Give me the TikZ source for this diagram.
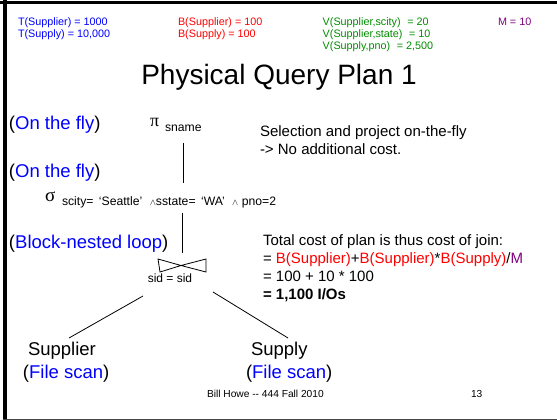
\documentclass[tikz,border=0pt]{standalone}
\usepackage{fontspec}
\setmainfont{Liberation Sans}
\newfontfamily\grfont{Liberation Serif}
\definecolor{qblue}{RGB}{0,0,255}
\definecolor{qred}{RGB}{255,0,0}
\definecolor{qgreen}{RGB}{0,140,0}
\definecolor{qpurple}{RGB}{128,0,128}
\definecolor{qframe}{RGB}{70,70,70}
\newcommand\myfs[1]{\fontsize{#1}{#1}\selectfont}
\begin{document}
\begin{tikzpicture}[x=1pt,y=-1pt,
  every node/.style={inner sep=0pt,outer sep=0pt},
  txt/.style={anchor=base west},
  small/.style={txt,font=\myfs{10.8}},
  mid/.style={txt,font=\myfs{15}},
  big/.style={txt,font=\myfs{18.5}},
  sub/.style={txt,font=\myfs{12.2}},
  edge/.style={draw=black,line width=0.8pt}]
\useasboundingbox (0,0) rectangle (557,420);
% frame
\fill[black] (0,1.5) rectangle (557,4.5);
\fill[black] (3.3,0) rectangle (6.7,420);
\draw[qframe,line width=1.3pt] (3,419.2) -- (557,419.2);
% statistics
\node[small,text=qblue] (t1) at (18,26) {T(Supplier) = 1000};
\node[small,text=qblue] (t2) at (18,37.7) {T(Supply) = 10,000};
\node[small,text=qred] (b1) at (178,26) {B(Supplier) = 100};
\node[small,text=qred] (b2) at (178,37.7) {B(Supply) = 100};
\node[small,text=qgreen] (v1) at (322.7,26) {V(Supplier,scity)\,\, = 20};
\node[small,text=qgreen] (v2) at (322.7,37.7) {V(Supplier,state)\,\, = 10};
\node[small,text=qgreen] (v3) at (322.7,49.4) {V(Supply,pno)\,\, = 2,500};
\node[small,text=qpurple] (m) at (498,26) {M = 10};
% title
\node[anchor=base,font=\myfs{28}] (title) at (279,84.3) {Physical Query Plan 1};
% left labels
\node[big] (l1) at (9,129.5) {(\textcolor{qblue}{On the fly})};
\node[big] (l2) at (9,177.5) {(\textcolor{qblue}{On the fly})};
\node[big] (l3) at (9,248) {(\textcolor{qblue}{Block-nested loop})};
% projection
\node[txt,font=\grfont\myfs{18}] (pi) at (150,126) {π};
\node[sub] (sname) at (165,131) {sname};
% selection
\node[txt,font=\grfont\myfs{19}] (sigma) at (45,201) {σ};
\node[sub] (cond) at (62,205) {scity=\, ‘Seattle’\,\, {\myfs{9}$\wedge$}sstate=\, ‘WA’\,\, {\myfs{9}$\wedge$} pno=2};
% connector coordinates
\coordinate (a1) at (183,143);
\coordinate (a2) at (183,183);
\coordinate (b1c) at (182,213);
\coordinate (b2c) at (182,253);
% join symbol
\coordinate (jtl) at (158,259);
\coordinate (jbl) at (160,272);
\coordinate (jc) at (181,265.5);
\coordinate (jtr) at (206,259);
\coordinate (jbr) at (206,272);
\draw[edge] (jtl) -- (jc) -- (jtr) -- (jbr) -- (jc) -- (jbl) -- cycle;
\node[anchor=base,font=\myfs{12}] (sid) at (170,282) {sid = sid};
\draw[edge] (a1) -- (a2);
\draw[edge] (b1c) -- (b2c);
% leaves
\node[big] (supplier) at (28,355) {Supplier};
\node[big] (fs1) at (23,378) {(\textcolor{qblue}{File scan})};
\node[big] (supply) at (251,355) {Supply};
\node[big] (fs2) at (246,378) {(\textcolor{qblue}{File scan})};
\coordinate (c1) at (143,296);
\coordinate (c2) at (69,338);
\coordinate (d1) at (213,292);
\coordinate (d2) at (288,338);
\draw[edge] (c1) -- (c2);
\draw[edge] (d1) -- (d2);
% right notes
\node[mid] (n1) at (260,136.4) {Selection and project on-the-fly};
\node[mid] (n2) at (260,154.4) {-> No additional cost.};
\node[mid] (k1) at (263,245.5) {Total cost of plan is thus cost of join:};
\node[mid] (k2) at (263,263.5) {= \textcolor{qred}{B(Supplier)}+\textcolor{qred}{B(Supplier)}*\textcolor{qred}{B(Supply)}/\textcolor{qpurple}{M}};
\node[mid] (k3) at (263,281.5) {= 100 + 10 * 100};
\node[mid,font=\myfs{15}\bfseries] (k4) at (263,299.5) {= 1,100 I/Os};
% footer
\node[txt,font=\myfs{10.2}] (foot) at (207,397.5) {Bill Howe -{}- 444 Fall 2010};
\node[txt,font=\myfs{10.2}] (page) at (471,397.5) {13};
\end{tikzpicture}
\end{document}
